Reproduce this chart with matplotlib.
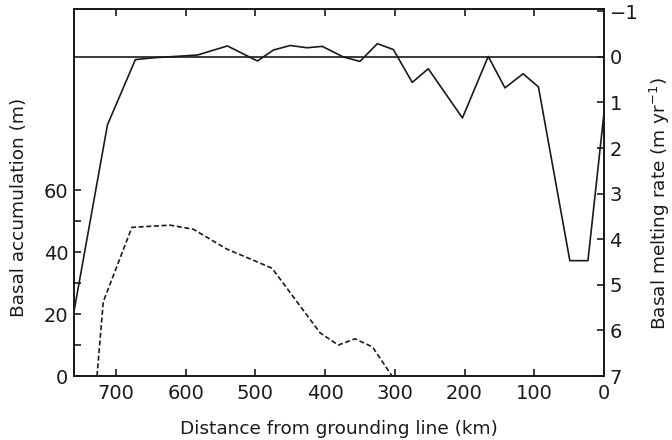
import matplotlib
matplotlib.use("Agg")
import matplotlib.pyplot as plt
from matplotlib.ticker import FixedLocator

# Basal melting rate (solid line, right axis, m/yr)
melt_km = [762, 712, 672, 646, 583, 540, 497, 474, 450, 426, 404, 374, 350, 325,
           302, 275, 252, 203, 166, 142, 116, 94, 49, 23, 0]
melt_rate = [5.75, 1.49, 0.06, 0.02, -0.04, -0.24, 0.09, -0.15, -0.25, -0.2, -0.23,
             0.0, 0.1, -0.29, -0.16, 0.56, 0.26, 1.34, -0.01, 0.68, 0.37, 0.66,
             4.47, 4.47, 1.23]

# Basal accumulation (dashed line, left axis, m)
acc_km = [727, 718, 677, 622, 589, 541, 503, 476, 407, 381, 357, 332, 304]
acc_m = [0, 24, 48, 48.7, 47.4, 41, 37.4, 34.8, 13.9, 10, 12, 9.4, 0]

x_ticks = [700, 600, 500, 400, 300, 200, 100, 0]
left_ticks = [0, 20, 40, 60]
left_minor = [10, 30, 50]
right_ticks = [-1, 0, 1, 2, 3, 4, 5, 6, 7]

plt.rcParams['font.family'] = ['DejaVu Sans']
fig = plt.figure(figsize=(6.72, 4.40), dpi=100)
ax = fig.add_axes([74/672, 1-376/440, (604-74)/672, (376-9)/440])
ax2 = ax.twinx()

lw = 1.2
ax.plot(acc_km, acc_m, color='#1a1a1a', lw=lw, ls=(0, (3, 1.6)))
ax.set_xlim(760, 0)
ax.set_ylim(0, 118.5)

ax2.plot(melt_km, melt_rate, color='#1a1a1a', lw=lw, clip_on=True)
ax2.axhline(0, color='#1a1a1a', lw=lw)
ax2.set_ylim(7, -1.05)

ax.set_xticks(x_ticks)
ax.set_xticklabels([str(v) for v in x_ticks])
ax.set_yticks(left_ticks)
ax.yaxis.set_minor_locator(FixedLocator(left_minor))
ax2.set_yticks(right_ticks)
ax2.set_yticklabels(['\u22121'] + [str(v) for v in right_ticks[1:]])

for a in (ax, ax2):
    for s in a.spines.values():
        s.set_linewidth(1.3)
        s.set_color('#1a1a1a')

ax.tick_params(axis='x', which='both', direction='in', top=True, length=5, width=1.2,
               labelsize=14, pad=6, colors='#1a1a1a')
ax.tick_params(axis='y', which='both', direction='in', length=5, width=1.2,
               labelsize=14, pad=4, colors='#1a1a1a')
ax2.tick_params(axis='y', direction='in', length=5, width=1.2, labelsize=14, pad=4,
                colors='#1a1a1a')

ax.set_xlabel('Distance from grounding line (km)', fontsize=13.3, color='#1a1a1a')
ax.xaxis.set_label_coords(0.5, -0.12)
ax.set_ylabel('Basal accumulation (m)', fontsize=13.3, color='#1a1a1a')
ax.yaxis.set_label_coords(-0.087, 0.46)
ax2.set_ylabel('Basal melting rate (m yr$^{-1}$)', fontsize=13.3, color='#1a1a1a')
ax2.yaxis.set_label_coords(1.083, 0.47)

fig.savefig('out.png', dpi=100, facecolor='white')
